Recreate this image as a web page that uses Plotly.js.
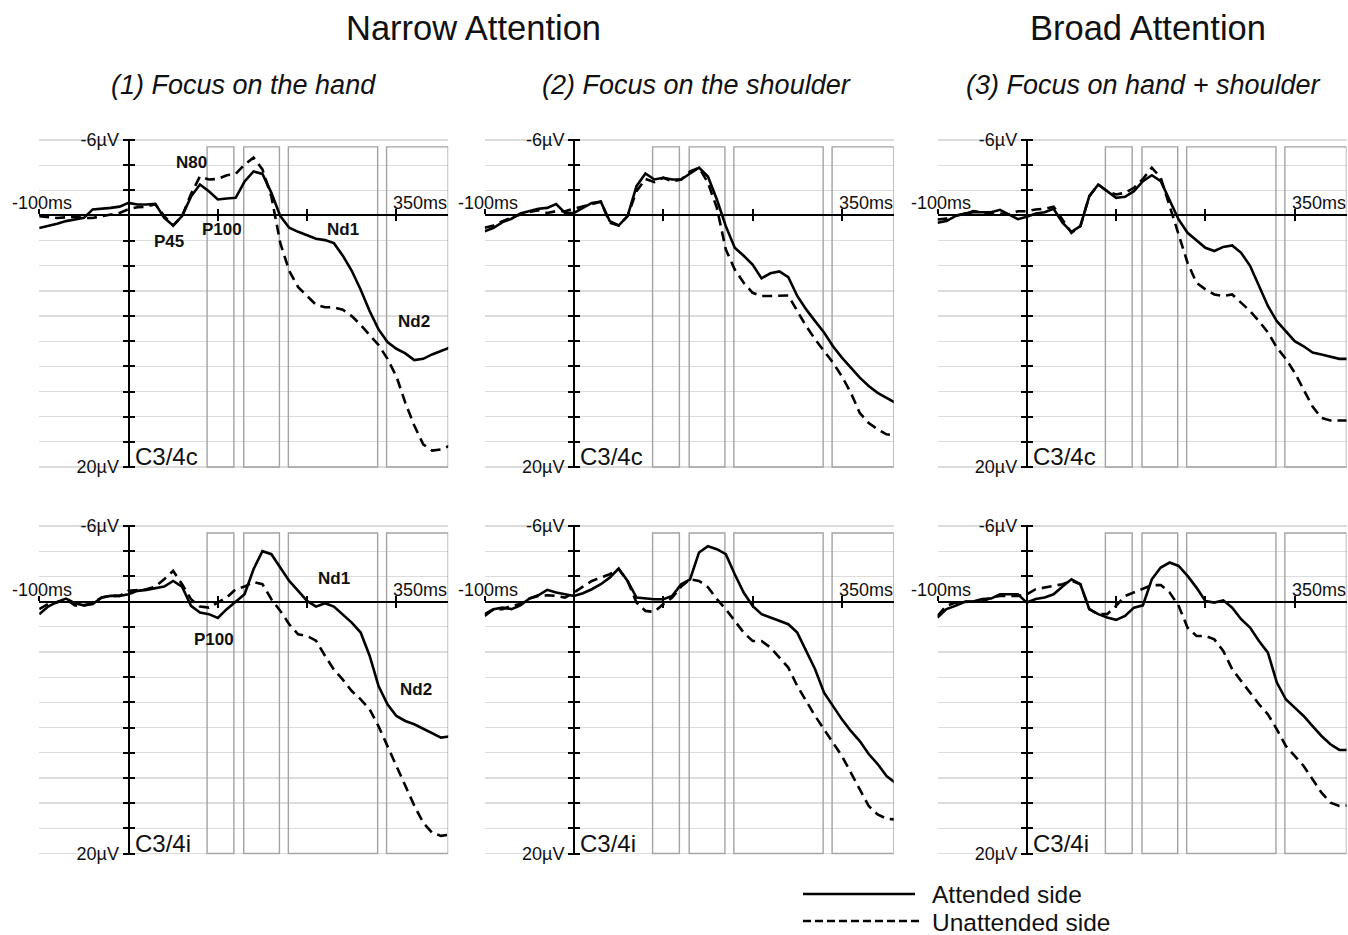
<!DOCTYPE html>
<html>
<head>
<meta charset="utf-8">
<script src="https://cdn.plot.ly/plotly-3.0.1.min.js"></script>
<style>html,body{margin:0;padding:0;background:#fff}#chart{width:1348px;height:935px}</style>
</head>
<body>
<div id="chart"></div>
<script>
// ---------------- DATA ----------------
const TIME_MS = [-100,-90,-80,-70,-60,-50,-40,-30,-20,-10,0,10,20,30,40,50,60,70,80,90,100,110,120,130,140,150,160,170,180,190,200,210,220,230,240,250,260,270,280,290,300,310,320,330,340,350,360];

// (1) Focus on the hand, contralateral C3/4c
const HAND_C_ATTENDED   = [1.0,0.85,0.66,0.45,0.32,0.19,-0.48,-0.53,-0.6,-0.7,-1.0,-0.87,-0.87,-0.93,0.2,0.8,0.05,-1.5,-2.46,-1.93,-1.27,-1.35,-1.4,-2.7,-3.5,-3.3,-1.8,0.05,0.98,1.3,1.6,1.85,1.96,2.2,3.2,4.4,5.9,7.6,9.06,10.07,10.6,10.97,11.5,11.4,11.05,10.8,10.5];
const HAND_C_UNATTENDED = [0.05,0.1,0.2,0.15,0.1,0.2,0.2,0.05,-0.08,-0.2,-0.5,-0.65,-0.7,-0.9,0.05,0.8,0.05,-1.7,-3.1,-2.86,-2.9,-3.2,-3.3,-4.05,-4.6,-3.66,-1.5,2.2,4.4,5.7,6.4,7.1,7.3,7.3,7.5,8.0,8.7,9.5,10.3,11.4,12.8,14.9,16.7,18.2,18.7,18.6,18.3];
// (2) Focus on the shoulder, C3/4c
const SHOULDER_C_ATTENDED   = [1.25,0.98,0.53,0.26,-0.16,-0.34,-0.53,-0.6,-0.9,-0.2,-0.2,-0.6,-1.0,-1.1,0.45,0.8,0.05,-2.33,-3.34,-2.86,-3.0,-2.86,-2.86,-3.34,-3.8,-3.1,-1.27,0.85,2.57,3.2,3.9,5.0,4.6,4.45,4.9,6.4,7.47,8.4,9.3,10.4,11.3,12.1,12.9,13.56,14.1,14.5,14.9];
const SHOULDER_C_UNATTENDED = [0.98,0.8,0.45,0.2,-0.08,-0.26,-0.42,-0.2,-0.34,-0.34,-0.53,-0.7,-0.9,-1.1,0.58,0.8,0.05,-1.93,-2.9,-2.65,-3.0,-2.7,-2.86,-3.5,-3.8,-2.6,-0.6,2.7,4.3,5.35,6.15,6.4,6.4,6.4,6.36,7.6,8.8,9.85,10.8,11.7,12.8,14.1,15.7,16.5,17.0,17.4,17.5];
// (3) Focus on hand + shoulder, C3/4c
const BOTH_C_ATTENDED   = [0.58,0.45,0.05,-0.16,-0.26,-0.26,-0.26,-0.45,-0.08,0.3,0.1,-0.16,-0.26,-0.53,0.58,1.3,0.85,-1.54,-2.46,-1.93,-1.4,-1.48,-1.93,-2.73,-3.2,-2.73,-1.27,0.32,1.38,1.96,2.57,2.83,2.5,2.38,2.97,4.0,5.6,7.2,8.4,9.2,10.0,10.4,10.9,11.05,11.2,11.4,11.4];
const BOTH_C_UNATTENDED = [0.32,0.25,0.0,-0.1,-0.34,-0.26,-0.16,-0.16,-0.08,-0.34,-0.34,-0.48,-0.53,-0.7,0.3,1.38,0.85,-1.54,-2.46,-1.93,-1.67,-1.8,-2.2,-2.9,-3.8,-3.0,-0.74,1.5,3.76,5.35,5.88,6.28,6.4,6.28,6.94,7.6,8.4,9.3,10.5,11.4,12.5,13.8,15.2,16.1,16.3,16.3,16.3];
// (1) hand, ipsilateral C3/4i
const HAND_I_ATTENDED   = [1.0,0.4,0.03,-0.24,0.13,0.3,0.2,-0.32,-0.45,-0.45,-0.58,-0.85,-0.93,-1.03,-1.19,-1.64,-1.19,0.34,0.87,1.0,1.3,0.6,0.03,-0.58,-2.57,-4.0,-3.76,-2.7,-1.64,-0.85,-0.05,0.4,0.13,0.4,1.0,1.67,2.46,4.3,6.7,8.15,9.08,9.48,9.74,10.1,10.4,10.8,10.7];
const HAND_I_UNATTENDED = [0.6,0.2,0.08,-0.2,0.3,0.3,0.13,-0.32,-0.45,-0.45,-0.85,-0.93,-0.98,-1.19,-1.77,-2.44,-1.38,-0.19,0.4,0.48,0.08,-0.32,-0.98,-1.19,-1.56,-1.38,-0.19,0.74,1.8,2.6,2.73,3.1,4.3,5.4,6.2,7.1,7.76,8.55,9.9,11.5,13.05,14.6,16.2,17.55,18.35,18.6,18.5];
// (2) shoulder, C3/4i
const SHOULDER_I_ATTENDED   = [1.14,0.6,0.48,0.6,0.3,-0.24,-0.5,-0.93,-0.72,-0.58,-0.45,-0.66,-0.98,-1.38,-1.9,-2.62,-1.64,-0.32,-0.24,-0.19,-0.19,-0.45,-1.38,-1.77,-3.9,-4.4,-4.16,-3.76,-2.17,-0.72,0.34,1.0,1.27,1.54,1.8,2.46,3.92,5.37,7.23,8.29,9.35,10.27,11.07,12.1,12.9,13.85,14.4];
const SHOULDER_I_UNATTENDED = [1.0,0.6,0.6,0.34,0.2,-0.24,-0.45,-0.5,-0.45,-0.32,-0.72,-1.19,-1.64,-1.9,-2.17,-2.57,-1.64,0.08,0.74,0.82,0.2,-0.32,-1.19,-1.77,-1.64,-1.14,-0.19,0.6,1.54,2.46,3.13,3.13,3.65,4.45,5.24,6.7,7.9,9.08,10.14,11.2,12.26,13.58,14.9,16.23,16.9,17.24,17.3];
// (3) hand + shoulder, C3/4i
const BOTH_I_ATTENDED   = [1.27,0.6,0.34,0.03,0.0,-0.2,-0.24,-0.58,-0.58,-0.58,0.08,-0.2,-0.32,-0.58,-1.19,-1.77,-1.38,0.6,1.0,1.27,1.45,1.14,0.48,0.3,-1.77,-2.7,-3.1,-2.83,-2.04,-1.11,-0.05,0.08,-0.1,0.48,1.4,2.07,3.13,4.05,6.43,7.76,8.42,9.08,9.88,10.67,11.33,11.78,11.78];
const BOTH_I_UNATTENDED = [1.14,0.34,0.1,0.0,0.0,0.0,-0.32,-0.45,-0.45,-0.45,-0.58,-0.98,-1.11,-1.24,-1.38,-1.64,-1.38,0.6,1.0,1.0,0.34,-0.45,-0.72,-0.98,-1.3,-1.32,-0.72,0.34,2.07,2.73,2.73,3.0,3.92,5.37,6.3,7.23,8.15,8.95,10.14,11.46,12.26,13.05,14.1,15.17,15.96,16.23,16.18];

// analysis time windows (ms)
const WINDOWS_MS = [[88,118],[129,169],[179,279],[289,358]];

const Y_TICKS = [-6,-4,-2,0,2,4,6,8,10,12,14,16,18,20];
const Y_TICK_TEXT = ['-6µV','','','','','','','','','','','','','20µV'];
const X_TICKS = [-100,100,200,300];
const X_END_LABELS = [[-100,'-100ms'],[358,'350ms']];

const SERIES_NAMES = ['Attended side','Unattended side'];
const CONDITION_TITLES = ['(1) Focus on the hand','(2) Focus on the shoulder','(3) Focus on hand + shoulder'];
const GROUP_TITLES = ['Narrow Attention','Broad Attention'];
const CHANNELS = ['C3/4c','C3/4i'];

// component labels: [panelIndex, text, ms, µV]
const COMPONENT_LABELS = [
  [0,'N80',70,-4.2],[0,'N140',147,-6.25],[0,'P45',45,2.07],[0,'P100',105,1.1],[0,'Nd1',240,1.1],[0,'Nd2',320,8.4],
  [3,'N140',152,-6.35],[3,'Nd1',230,-1.85],[3,'P100',96,3.0],[3,'Nd2',322,7.0]
];

// ---------------- LAYOUT ----------------
const W = 1348, H = 935;
const FONT = 'Liberation Sans, Arial, Helvetica, sans-serif';
const COL_LEFT = [39.2, 484.7, 937.5], COL_W = 409;
const ROW_TOP = [140, 526], ROW_BOT = [467, 853.5];   // pixel rows of -6 µV and 20 µV
const UV_TOP = -6, UV_BOT = 20, UV_PAD = 0.1;
const X_RANGE = [-100, 358], Y_RANGE = [UV_BOT + UV_PAD, UV_TOP - UV_PAD];
const BOX_TOP = -5.45;
const px = v => v / W, py = v => 1 - v / H;

const panels = [
  {col:0,row:0,att:HAND_C_ATTENDED,un:HAND_C_UNATTENDED},
  {col:1,row:0,att:SHOULDER_C_ATTENDED,un:SHOULDER_C_UNATTENDED},
  {col:2,row:0,att:BOTH_C_ATTENDED,un:BOTH_C_UNATTENDED},
  {col:0,row:1,att:HAND_I_ATTENDED,un:HAND_I_UNATTENDED},
  {col:1,row:1,att:SHOULDER_I_ATTENDED,un:SHOULDER_I_UNATTENDED},
  {col:2,row:1,att:BOTH_I_ATTENDED,un:BOTH_I_UNATTENDED}
];

const traces = [];
const layout = {
  width: W, height: H,
  margin: {l:0,r:0,t:0,b:0},
  paper_bgcolor: '#fff', plot_bgcolor: 'rgba(0,0,0,0)',
  showlegend: false,
  font: {family: FONT, color: '#111', size: 18},
  shapes: [], annotations: []
};

const axName = (p, n) => n === 1 ? p : p + n;

panels.forEach((pn, i) => {
  const n = i + 1, m = i + 7;
  const left = COL_LEFT[pn.col];
  const pxPerUv = (ROW_BOT[pn.row] - ROW_TOP[pn.row]) / (UV_BOT - UV_TOP);
  const xdom = [px(left), px(left + COL_W)];
  const ydom = [py(ROW_BOT[pn.row] + UV_PAD * pxPerUv), py(ROW_TOP[pn.row] - UV_PAD * pxPerUv)];
  const xZeroPos = px(left + (0 - X_RANGE[0]) / (X_RANGE[1] - X_RANGE[0]) * COL_W);
  const yZeroPos = ydom[0] + (Y_RANGE[0] - 0) / (Y_RANGE[0] - Y_RANGE[1]) * (ydom[1] - ydom[0]);
  const xr = axName('x', n), yr = axName('y', n);

  layout[axName('xaxis', n)] = {
    domain: xdom, range: X_RANGE, anchor: 'free', position: yZeroPos, side: 'top',
    showline: true, linecolor: '#000', linewidth: 2, showgrid: false, zeroline: false,
    ticks: 'outside', ticklen: 5, tickwidth: 2, tickcolor: '#000',
    tickmode: 'array', tickvals: X_TICKS, showticklabels: false, fixedrange: true
  };
  layout[axName('yaxis', n)] = {
    domain: ydom, range: Y_RANGE, anchor: 'free', position: xZeroPos, side: 'left',
    showline: true, linecolor: '#000', linewidth: 2,
    showgrid: true, gridcolor: '#dcdcdc', gridwidth: 1.3, zeroline: false,
    ticks: 'outside', ticklen: 5, tickwidth: 2, tickcolor: '#000',
    tickmode: 'array', tickvals: Y_TICKS, ticktext: Y_TICK_TEXT,
    tickfont: {family: FONT, size: 18, color: '#111'}, fixedrange: true
  };
  // overlay axes for the opposite half of crossing ticks
  layout['xaxis' + m] = {
    domain: xdom, range: X_RANGE, overlaying: xr, anchor: 'free', position: yZeroPos, side: 'top',
    showline: false, showgrid: false, zeroline: false, showticklabels: false,
    ticks: 'inside', ticklen: 5, tickwidth: 2, tickcolor: '#000',
    tickmode: 'array', tickvals: X_TICKS, fixedrange: true
  };
  layout['yaxis' + m] = {
    domain: ydom, range: Y_RANGE, overlaying: yr, anchor: 'free', position: xZeroPos, side: 'left',
    showline: false, showgrid: false, zeroline: false, showticklabels: false,
    ticks: 'inside', ticklen: 5, tickwidth: 2, tickcolor: '#000',
    tickmode: 'array', tickvals: Y_TICKS.filter(v => v !== 0), fixedrange: true
  };

  traces.push({x: [], y: [], xaxis: 'x' + m, yaxis: 'y' + m, type: 'scatter', mode: 'lines', showlegend: false, hoverinfo: 'skip'});
  traces.push({x: TIME_MS, y: pn.att, xaxis: xr, yaxis: yr, type: 'scatter', mode: 'lines',
    name: SERIES_NAMES[0], line: {color: '#000', width: 2.6}, hoverinfo: 'skip'});
  traces.push({x: TIME_MS, y: pn.un, xaxis: xr, yaxis: yr, type: 'scatter', mode: 'lines',
    name: SERIES_NAMES[1], line: {color: '#000', width: 2.6, dash: '10px,6px'}, hoverinfo: 'skip'});

  WINDOWS_MS.forEach(w => {
    layout.shapes.push({type: 'rect', xref: xr, yref: yr, x0: w[0], x1: w[1], y0: UV_BOT, y1: BOX_TOP,
      line: {color: '#a3a3a3', width: 1.4}, fillcolor: 'rgba(0,0,0,0)', layer: 'between'});
  });

  // channel label
  layout.annotations.push({xref: xr, yref: yr, x: 0, y: UV_BOT, xanchor: 'left', yanchor: 'bottom',
    text: CHANNELS[pn.row], showarrow: false, xshift: 4, yshift: -5,
    font: {family: FONT, size: 24, color: '#111'}});
  // time-axis end labels
  X_END_LABELS.forEach((lb, k) => {
    layout.annotations.push({xref: xr, yref: yr, x: lb[0], y: 0, xanchor: k === 0 ? 'center' : 'right', yanchor: 'bottom',
      text: lb[1], showarrow: false, yshift: 0, xshift: k === 0 ? 3 : 1,
      font: {family: FONT, size: 18, color: '#111'}});
  });
});

COMPONENT_LABELS.forEach(c => {
  const n = c[0] + 1;
  layout.annotations.push({xref: axName('x', n), yref: axName('y', n), x: c[2], y: c[3],
    text: '<b>' + c[1] + '</b>', showarrow: false, xanchor: 'center', yanchor: 'middle',
    font: {family: FONT, size: 17, color: '#111'}});
});

// titles
[[473, GROUP_TITLES[0]], [1147.5, GROUP_TITLES[1]]].forEach(t => {
  layout.annotations.push({xref: 'paper', yref: 'paper', x: px(t[0]), y: py(28), xanchor: 'center', yanchor: 'middle',
    text: t[1], showarrow: false, font: {family: FONT, size: 34.5, color: '#111'}});
});
[243, 696.5, 1142.5].forEach((cx, k) => {
  layout.annotations.push({xref: 'paper', yref: 'paper', x: px(cx), y: py(85), xanchor: 'center', yanchor: 'middle',
    text: '<i>' + CONDITION_TITLES[k] + '</i>', showarrow: false, font: {family: FONT, size: 27, color: '#111'}});
});

// legend (drawn manually to match the long sample lines)
layout.shapes.push({type: 'line', xref: 'paper', yref: 'paper', x0: px(803), x1: px(915), y0: py(894), y1: py(894),
  line: {color: '#000', width: 2.7}});
layout.shapes.push({type: 'line', xref: 'paper', yref: 'paper', x0: px(803), x1: px(920), y0: py(921), y1: py(921),
  line: {color: '#000', width: 2.7, dash: '8px,4px'}});
[[894, SERIES_NAMES[0]], [922, SERIES_NAMES[1]]].forEach(l => {
  layout.annotations.push({xref: 'paper', yref: 'paper', x: px(931), y: py(l[0]), xanchor: 'left', yanchor: 'middle',
    text: l[1], showarrow: false, borderpad: 0, font: {family: FONT, size: 24.5, color: '#111'}});
});

Plotly.newPlot('chart', traces, layout, {displayModeBar: false, staticPlot: true});
</script>
</body>
</html>
